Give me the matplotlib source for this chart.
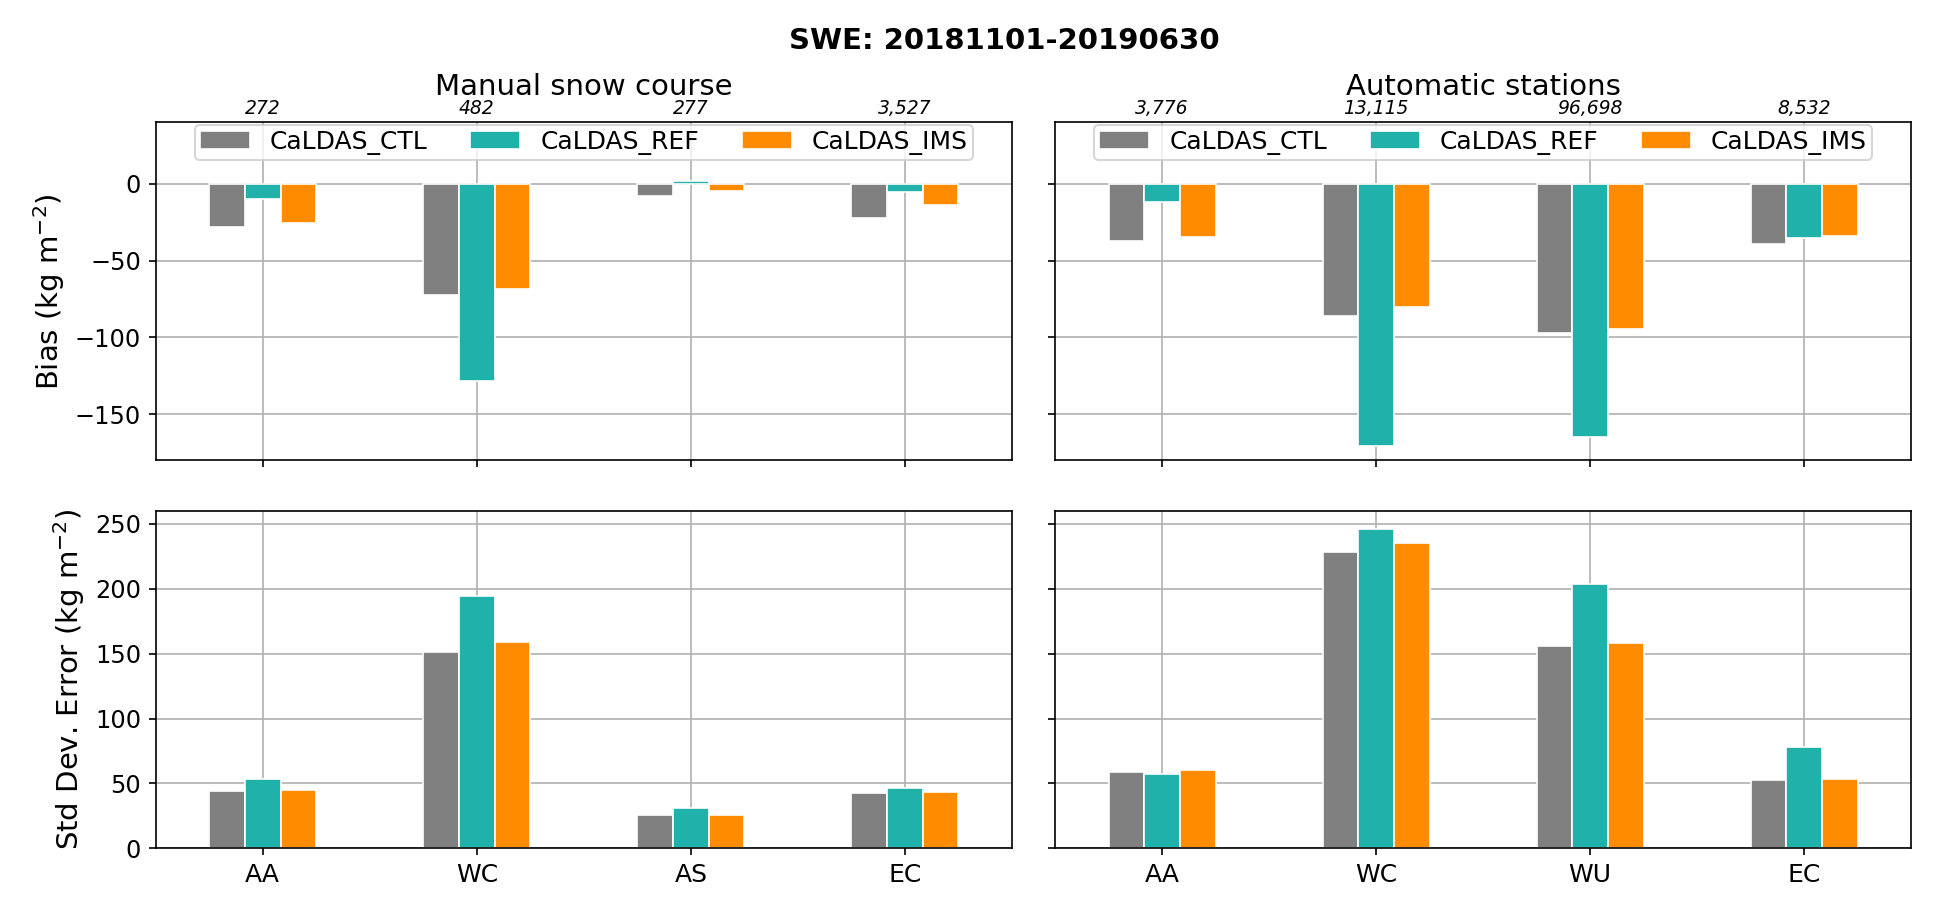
import matplotlib
matplotlib.use("Agg")
import matplotlib.pyplot as plt
import numpy as np

# ---- data ----
series = ["CaLDAS_CTL", "CaLDAS_REF", "CaLDAS_IMS"]
colors = ["grey", "lightseagreen", "darkorange"]

manual_regions = ["AA", "WC", "AS", "EC"]
manual_counts = ["272", "482", "277", "3,527"]
manual_bias_ctl = [-28.3, -72.6, -8.0, -22.0]
manual_bias_ref = [-10.0, -128.2, 2.0, -5.4]
manual_bias_ims = [-25.4, -68.3, -5.0, -14.1]
manual_std_ctl = [44.1, 151.3, 25.7, 42.8]
manual_std_ref = [53.6, 194.3, 31.4, 46.6]
manual_std_ims = [44.9, 158.8, 25.7, 43.7]

auto_regions = ["AA", "WC", "WU", "EC"]
auto_counts = ["3,776", "13,115", "96,698", "8,532"]
auto_bias_ctl = [-37.0, -86.1, -97.4, -39.3]
auto_bias_ref = [-12.0, -170.4, -165.0, -35.0]
auto_bias_ims = [-34.6, -80.2, -94.8, -34.1]
auto_std_ctl = [59.0, 228.7, 156.2, 52.8]
auto_std_ref = [57.0, 246.2, 203.6, 78.2]
auto_std_ims = [60.0, 235.4, 158.5, 53.3]

title = "SWE: 20181101-20190630"
col_titles = ["Manual snow course", "Automatic stations"]

# ---- figure ----
W, H, DPI = 1937, 905, 150
fig = plt.figure(figsize=(W / DPI, H / DPI), dpi=DPI)

def px_axes(x0, x1, ytop, ybot):
    return [x0 / W, 1 - ybot / H, (x1 - x0) / W, (ybot - ytop) / H]

ax_tl = fig.add_axes(px_axes(155.7, 1012, 122.3, 460.3))
ax_tr = fig.add_axes(px_axes(1055, 1911, 122.3, 460.3))
ax_bl = fig.add_axes(px_axes(155.7, 1012, 511, 848.3))
ax_br = fig.add_axes(px_axes(1055, 1911, 511, 848.3))

bw = 0.5 / 3

def draw(ax, regions, vals, legend=False):
    x = np.arange(len(regions))
    for k, (v, c, name) in enumerate(zip(vals, colors, series)):
        ax.bar(x + (k - 1) * bw, v, width=bw, color=c, edgecolor="white",
               linewidth=0.8, label=name)
    ax.set_xlim(-0.5, len(regions) - 0.5)
    ax.set_xticks(x)
    ax.set_axisbelow(True)
    ax.grid(True, color="#b0b0b0", linewidth=0.8)
    ax.tick_params(axis="x", labelsize=12)
    ax.tick_params(axis="y", labelsize=11.5)
    if legend:
        ax.legend(loc="upper center", ncol=3, fontsize=12, borderpad=0.2,
                  borderaxespad=0.1, columnspacing=1.7)

draw(ax_tl, manual_regions, [manual_bias_ctl, manual_bias_ref, manual_bias_ims], legend=True)
draw(ax_tr, auto_regions, [auto_bias_ctl, auto_bias_ref, auto_bias_ims], legend=True)
draw(ax_bl, manual_regions, [manual_std_ctl, manual_std_ref, manual_std_ims])
draw(ax_br, auto_regions, [auto_std_ctl, auto_std_ref, auto_std_ims])

for ax in (ax_tl, ax_tr):
    ax.set_ylim(-180, 40)
    ax.set_yticks([-150, -100, -50, 0])
    ax.set_xticklabels([])
for ax in (ax_bl, ax_br):
    ax.set_ylim(0, 260)
    ax.set_yticks([0, 50, 100, 150, 200, 250])
ax_bl.set_xticklabels(manual_regions)
ax_br.set_xticklabels(auto_regions)
ax_tr.set_yticklabels([])
ax_br.set_yticklabels([])

ax_tl.set_ylabel("Bias (kg m$^{-2}$)", fontsize=14)
ax_bl.set_ylabel("Std Dev. Error (kg m$^{-2}$)", fontsize=14)

for ax, counts, t in ((ax_tl, manual_counts, col_titles[0]), (ax_tr, auto_counts, col_titles[1])):
    for i, c in enumerate(counts):
        ax.annotate(c, xy=(i, 1), xycoords=("data", "axes fraction"),
                    xytext=(0, 2), textcoords="offset points",
                    ha="center", va="bottom", fontsize=9, style="italic")
    ax.set_title(t, fontsize=14, pad=13)

fig.text(1004 / W, 1 - 49.4 / H, title, ha="center", va="baseline",
         fontsize=14, fontweight="bold")

fig.savefig("out.png", dpi=DPI)
